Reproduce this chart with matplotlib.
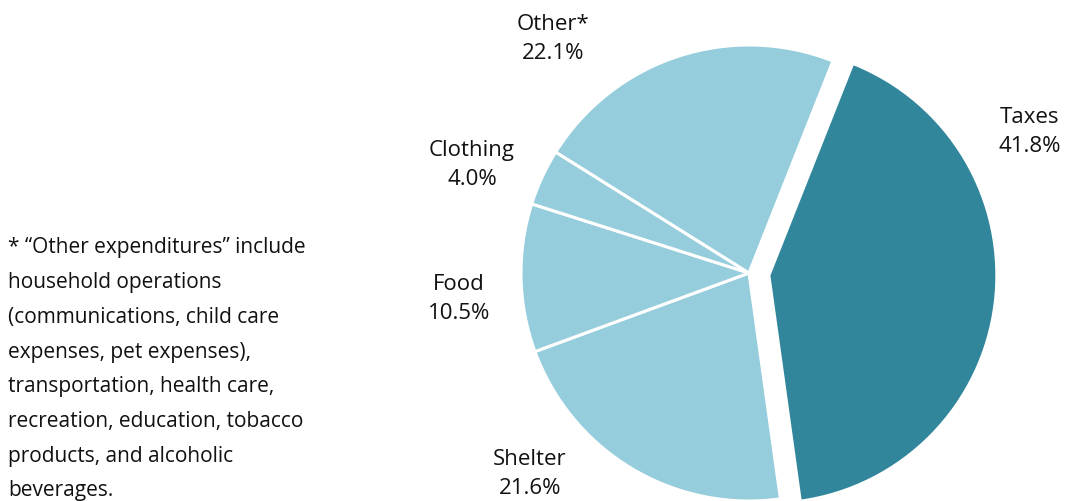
import matplotlib.pyplot as plt

# Datos
categorias = ['Taxes', 'Shelter', 'Food', 'Clothing', 'Other*']
porcentajes = [41.8, 21.6, 10.5, 4.0, 22.1]
colores = ['#32869c', '#95cddc', '#95cddc', '#95cddc', '#95cddc']
separar = [20, 0, 0, 0, 0]  # en unidades de datos (px)

nota = ['* \u201cOther expenditures\u201d include',
        'household operations',
        '(communications, child care',
        'expenses, pet expenses),',
        'transportation, health care,',
        'recreation, education, tobacco',
        'products, and alcoholic',
        'beverages.']

plt.rcParams['font.family'] = ['Open Sans', 'DejaVu Sans']

fig = plt.figure(figsize=(10.67, 5.01), dpi=100)
ax = fig.add_axes([0, 0, 1, 1])

ax.pie(porcentajes, colors=colores, explode=separar, startangle=68.4,
       counterclock=False, center=(749, 228), radius=228,
       wedgeprops=dict(edgecolor='white', linewidth=2.2))

# Etiquetas de cada sector
pos_etiquetas = [(1030, 369), (530, 27), (459, 202), (472, 336), (553, 462)]
for cat, pct, (x, y) in zip(categorias, porcentajes, pos_etiquetas):
    ax.text(x, y, f'{cat}\n{pct:.1f}%', ha='center', va='center',
            fontsize=16, color='#111111', linespacing=1.55)

# Nota al pie
for i, linea in enumerate(nota):
    ax.text(8, 253 - i * 34.7, linea, ha='left', va='center',
            fontsize=15, color='#111111')

ax.set_xlim(0, 1067)
ax.set_ylim(0, 501)
ax.set_aspect('equal')
ax.axis('off')

plt.savefig('out.png', dpi=100)
